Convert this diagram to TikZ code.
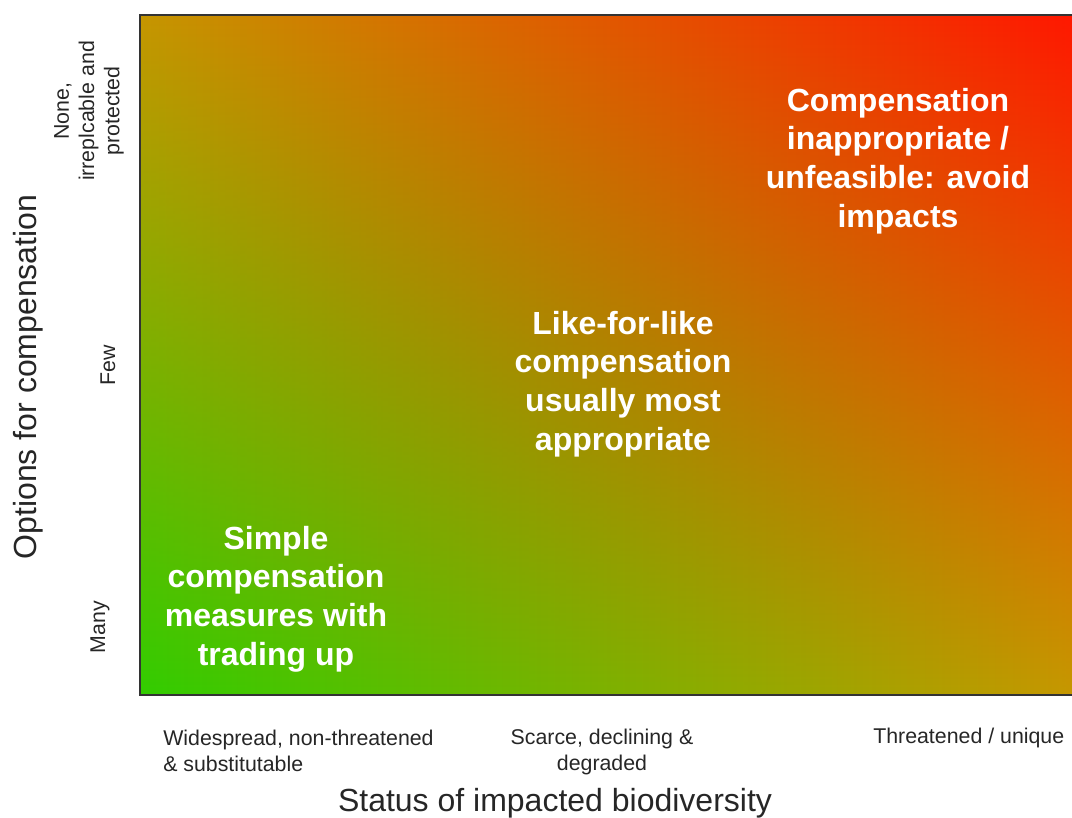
\documentclass[tikz,border=0pt]{standalone}
\usepackage{fontspec}
\setmainfont{Liberation Sans}
\usetikzlibrary{fadings}
\definecolor{lowleft}{RGB}{50,205,0}
\definecolor{lowmid}{RGB}{135,188,0}
\definecolor{lowright}{RGB}{198,152,0}
\definecolor{topleft}{RGB}{198,150,0}
\definecolor{topmid}{RGB}{238,104,0}
\definecolor{topright}{RGB}{255,24,0}
\tikzfading[name=fadeup, top color=transparent!0, bottom color=transparent!100]
\tikzset{
  ticklabel/.style={font=\fontsize{16}{19}\selectfont, text=black!85, inner sep=0pt},
  axistitle/.style={font=\fontsize{24}{29}\selectfont, text=black!85, inner sep=0pt},
  zone/.style={font=\fontsize{24}{29}\selectfont\bfseries, text=white, align=center},
}
\begin{document}
\begin{tikzpicture}[x=0.75pt,y=-0.75pt]
  \useasboundingbox (0,0) rectangle (1072,818);
  % background field: bottom row, then top row faded in upwards
  \shade[left color=lowleft, middle color=lowmid, right color=lowright] (140,15) rectangle (1074,695);
  \shade[left color=topleft, middle color=topmid, right color=topright, path fading=fadeup] (140,15) rectangle (1074,695);
  \draw[line width=1pt, black!80] (140,15) rectangle (1074,695);
  % zones
  \node[zone] (simple) at (276,599) {Simple\\compensation\\measures with\\trading up};
  \node[zone] (likeforlike) at (623,384) {Like-for-like\\compensation\\usually most\\appropriate};
  \node[zone] (avoid) at (898,161) {Compensation\\inappropriate /\\unfeasible: avoid\\impacts};
  % x axis
  \node[ticklabel, align=left, anchor=west] (widespread) at (163,751) {Widespread, non-threatened\\\& substitutable};
  \node[ticklabel, align=center] (scarce) at (602,752) {Scarce, declining \&\\degraded};
  \node[ticklabel, anchor=west] (threatened) at (873,738) {Threatened / unique};
  \node[axistitle] (xtitle) at (555,803) {Status of impacted biodiversity};
  % y axis
  \node[ticklabel, rotate=90, align=center] (none) at (89,111) {None,\\irreplcable and\\protected};
  \node[ticklabel, rotate=90] (few) at (108,365) {Few};
  \node[ticklabel, rotate=90] (many) at (100,627) {Many};
  \node[axistitle, rotate=90] (ytitle) at (28,377) {Options for compensation};
\end{tikzpicture}
\end{document}
